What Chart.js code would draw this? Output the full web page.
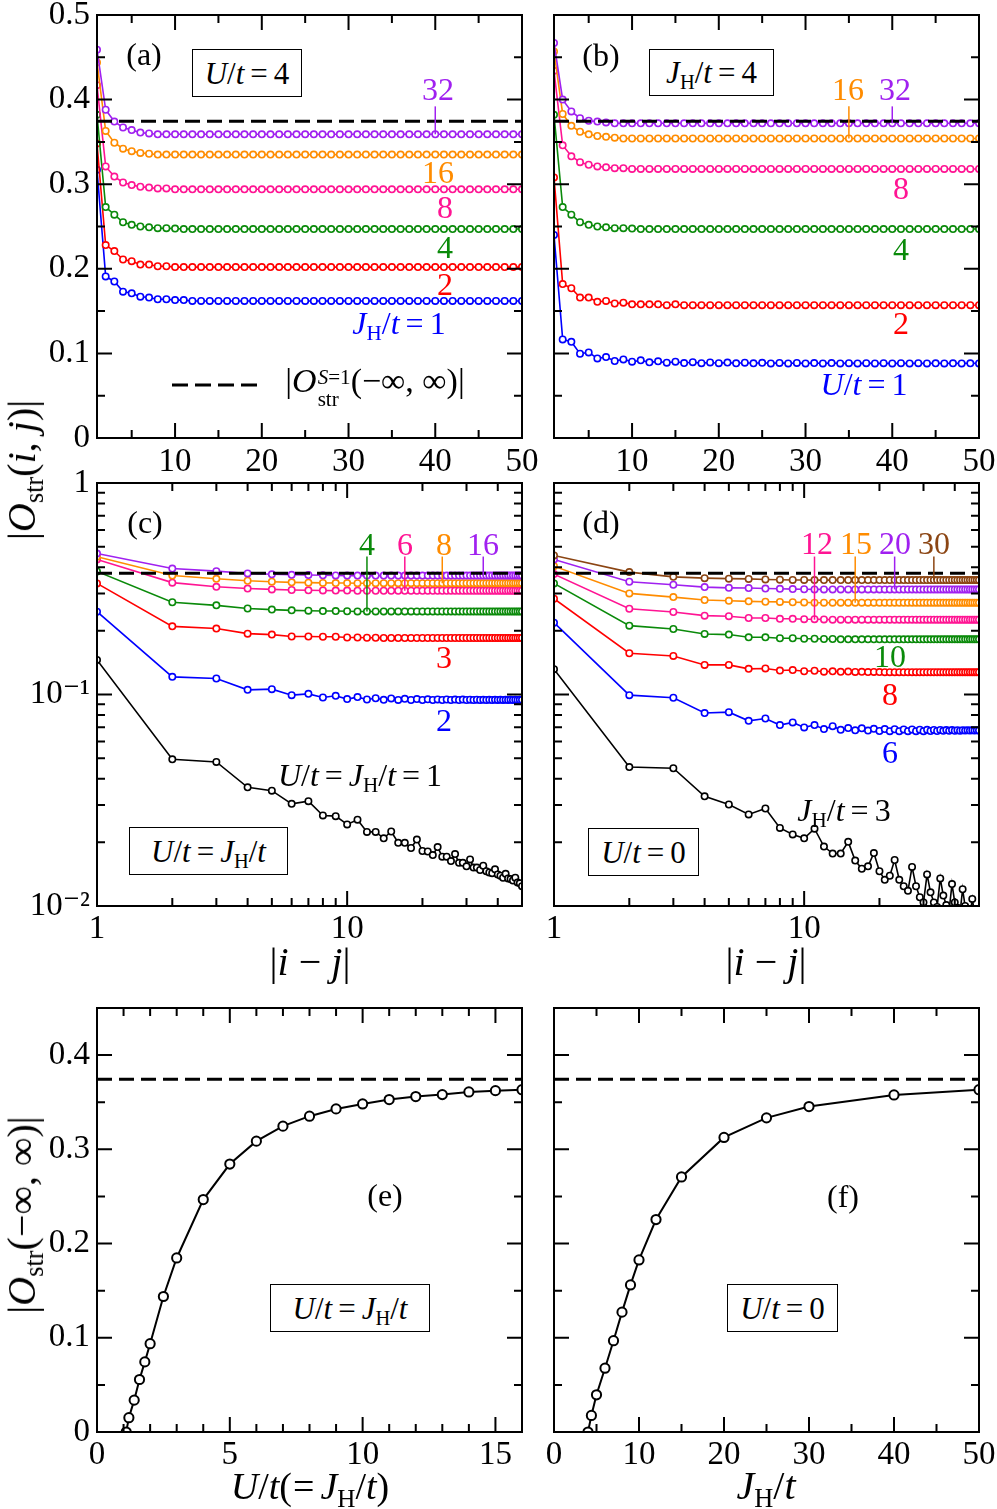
<!DOCTYPE html>
<html><head><meta charset="utf-8">
<script src="https://cdn.jsdelivr.net/npm/chart.js@4.4.1/dist/chart.umd.min.js"></script>
<style>
html,body{margin:0;padding:0;background:#fff;overflow:hidden}
#wrap{position:relative;width:997px;height:1509px;overflow:hidden;font-family:'Liberation Serif','Times New Roman','DejaVu Serif',serif;color:#000}
canvas{position:absolute}
.t{position:absolute;transform:translate(-50%,-50%);white-space:nowrap;line-height:1;font-size:32px}
.rot{position:absolute;transform:translate(-50%,-50%) rotate(-90deg);white-space:nowrap;line-height:1;font-size:40px}
.box{position:absolute;border:1.5px solid #000;background:#fff;display:flex;align-items:center;justify-content:center;font-size:31px;white-space:nowrap;box-sizing:border-box;line-height:1}
sub{font-size:0.66em;vertical-align:-0.3em;line-height:0;font-style:normal}
.ss{display:inline-flex;flex-direction:column;font-size:0.62em;vertical-align:0.38em;line-height:1.05;margin-left:1px}
.eq{margin:0 6px}
.eqr{margin:0 6px 0 1px}
</style>
</head><body><div id="wrap"></div>
<script>
// ---------------- data ----------------
const sep = [1,2,3,4,5,6,7,8,9,10,11,12,13,14,15,16,17,18,19,20,21,22,23,24,25,26,27,28,29,30,31,32,33,34,35,36,37,38,39,40,41,42,43,44,45,46,47,48,49,50];
const dashVal = [0.3743, 0.3743];

// U/t = J_H/t = 4 (shared by panels a, b, c)
const eq4 = [0.382,0.273,0.264,0.255,0.252,0.250,0.249,0.248,0.248,0.2475,
 0.247,0.247,0.247,0.247,0.247,0.247,0.247,0.247,0.247,0.247,
 0.247,0.247,0.247,0.247,0.247,0.247,0.247,0.247,0.247,0.247,
 0.247,0.247,0.247,0.247,0.247,0.247,0.247,0.247,0.247,0.247,
 0.247,0.247,0.247,0.247,0.247,0.247,0.247,0.247,0.247,0.247];

// panel (a): U/t=4, J_H/t = 1,2,8,16,32
const aJ1 = [0.317,0.191,0.185,0.173,0.171,0.167,0.166,0.164,0.164,0.163,
 0.163,0.162,0.162,0.162,0.162,0.162,0.162,0.162,0.162,0.162,
 0.162,0.162,0.162,0.162,0.162,0.162,0.162,0.162,0.162,0.162,
 0.162,0.162,0.162,0.162,0.162,0.162,0.162,0.162,0.162,0.162,
 0.162,0.162,0.162,0.162,0.162,0.162,0.162,0.162,0.162,0.162];
const aJ2 = [0.348,0.228,0.221,0.211,0.209,0.205,0.205,0.203,0.203,0.202,
 0.202,0.202,0.202,0.202,0.202,0.202,0.202,0.202,0.202,0.202,
 0.202,0.202,0.202,0.202,0.202,0.202,0.202,0.202,0.202,0.202,
 0.202,0.202,0.202,0.202,0.202,0.202,0.202,0.202,0.202,0.202,
 0.202,0.202,0.202,0.202,0.202,0.202,0.202,0.202,0.202,0.202];
const aJ8 = [0.417,0.321,0.309,0.302,0.299,0.297,0.296,0.295,0.295,0.294,
 0.294,0.294,0.294,0.294,0.294,0.294,0.294,0.294,0.294,0.294,
 0.294,0.294,0.294,0.294,0.294,0.294,0.294,0.294,0.294,0.294,
 0.294,0.294,0.294,0.294,0.294,0.294,0.294,0.294,0.294,0.294,
 0.294,0.294,0.294,0.294,0.294,0.294,0.294,0.294,0.294,0.294];
const aJ16 = [0.444,0.363,0.349,0.342,0.339,0.337,0.336,0.335,0.335,0.335,
 0.335,0.335,0.335,0.335,0.335,0.335,0.335,0.335,0.335,0.335,
 0.335,0.335,0.335,0.335,0.335,0.335,0.335,0.335,0.335,0.335,
 0.335,0.335,0.335,0.335,0.335,0.335,0.335,0.335,0.335,0.335,
 0.335,0.335,0.335,0.335,0.335,0.335,0.335,0.335,0.335,0.335];
const aJ32 = [0.459,0.388,0.374,0.367,0.364,0.361,0.360,0.359,0.359,0.359,
 0.359,0.359,0.359,0.359,0.359,0.359,0.359,0.359,0.359,0.359,
 0.359,0.359,0.359,0.359,0.359,0.359,0.359,0.359,0.359,0.359,
 0.359,0.359,0.359,0.359,0.359,0.359,0.359,0.359,0.359,0.359,
 0.359,0.359,0.359,0.359,0.359,0.359,0.359,0.359,0.359,0.359];

// panel (b): J_H/t=4, U/t = 1,2,8,16,32
const bU1 = [0.240,0.1165,0.1137,0.0996,0.1012,0.0941,0.0957,0.0910,0.0929,0.0902,
 0.0918,0.0894,0.0906,0.0890,0.0902,0.0886,0.0896,0.0885,0.0893,0.0884,
 0.0891,0.0883,0.0890,0.0883,0.0889,0.0882,0.0888,0.0882,0.0887,0.0882,
 0.0886,0.0882,0.0886,0.0882,0.0885,0.0882,0.0885,0.0882,0.0884,0.0882,
 0.0884,0.0882,0.0884,0.0882,0.0883,0.0882,0.0883,0.0882,0.0883,0.0882];
const bU2 = [0.308,0.182,0.177,0.166,0.166,0.161,0.162,0.159,0.160,0.158,
 0.158,0.158,0.158,0.157,0.158,0.157,0.157,0.157,0.157,0.157,
 0.157,0.157,0.157,0.157,0.157,0.157,0.157,0.157,0.157,0.157,
 0.157,0.157,0.157,0.157,0.157,0.157,0.157,0.157,0.157,0.157,
 0.157,0.157,0.157,0.157,0.157,0.157,0.157,0.157,0.157,0.157];
const bU8 = [0.434,0.346,0.333,0.326,0.323,0.321,0.320,0.319,0.319,0.318,
 0.318,0.318,0.318,0.318,0.318,0.318,0.318,0.318,0.318,0.318,
 0.318,0.318,0.318,0.318,0.318,0.318,0.318,0.318,0.318,0.318,
 0.318,0.318,0.318,0.318,0.318,0.318,0.318,0.318,0.318,0.318,
 0.318,0.318,0.318,0.318,0.318,0.318,0.318,0.318,0.318,0.318];
const bU16 = [0.457,0.383,0.369,0.362,0.359,0.357,0.356,0.355,0.354,0.354,
 0.354,0.354,0.354,0.354,0.354,0.354,0.354,0.354,0.354,0.354,
 0.354,0.354,0.354,0.354,0.354,0.354,0.354,0.354,0.354,0.354,
 0.354,0.354,0.354,0.354,0.354,0.354,0.354,0.354,0.354,0.354,
 0.354,0.354,0.354,0.354,0.354,0.354,0.354,0.354,0.354,0.354];
const bU32 = [0.467,0.400,0.386,0.378,0.375,0.374,0.373,0.372,0.372,0.372,
 0.372,0.372,0.372,0.372,0.372,0.372,0.372,0.372,0.372,0.372,
 0.372,0.372,0.372,0.372,0.372,0.372,0.372,0.372,0.372,0.372,
 0.372,0.372,0.372,0.372,0.372,0.372,0.372,0.372,0.372,0.372,
 0.372,0.372,0.372,0.372,0.372,0.372,0.372,0.372,0.372,0.372];

// panel (c): U/t = J_H/t = 1,2,3,(4),6,8,16
const cE1 = [0.1457,0.0494,0.0480,0.0364,0.0351,0.0304,0.0313,0.0268,0.0266,0.0243,
 0.0256,0.0224,0.0224,0.0209,0.0225,0.0199,0.0199,0.0188,0.0206,0.0182,
 0.0181,0.0174,0.0190,0.0171,0.0171,0.0163,0.0176,0.0160,0.0160,0.0154,
 0.0166,0.0152,0.0152,0.0148,0.0155,0.0146,0.0144,0.0143,0.0149,0.0141,
 0.0139,0.0136,0.0142,0.0135,0.0134,0.0132,0.0136,0.0129,0.0128,0.0124];
const cE2 = [0.2463,0.1212,0.1190,0.1052,0.1060,0.0993,0.1007,0.0968,0.0986,0.0951,
 0.0972,0.0947,0.0960,0.0944,0.0958,0.0943,0.0954,0.0942,0.0951,0.0942,
 0.0949,0.0942,0.0948,0.0942,0.0947,0.0942,0.0946,0.0942,0.0946,0.0942,
 0.0945,0.0942,0.0945,0.0942,0.0944,0.0942,0.0944,0.0942,0.0944,0.0943,
 0.0944,0.0943,0.0944,0.0943,0.0944,0.0943,0.0944,0.0943,0.0944,0.0944];
const cE3 = [0.335,0.210,0.205,0.194,0.192,0.188,0.188,0.1875,0.1875,0.186,
 0.186,0.1855,0.1855,0.185,0.185,0.185,0.185,0.185,0.185,0.185,
 0.185,0.185,0.185,0.185,0.185,0.185,0.185,0.185,0.185,0.185,
 0.185,0.185,0.185,0.185,0.185,0.185,0.185,0.185,0.185,0.185,
 0.185,0.185,0.185,0.185,0.185,0.185,0.185,0.185,0.185,0.185];
const cE6 = [0.435,0.338,0.323,0.317,0.314,0.312,0.311,0.3105,0.310,0.310,
 0.3095,0.3095,0.3095,0.3095,0.3095,0.3095,0.3095,0.3095,0.3095,0.3095,
 0.3095,0.3095,0.3095,0.3095,0.3095,0.3095,0.3095,0.3095,0.3095,0.3095,
 0.3095,0.3095,0.3095,0.3095,0.3095,0.3095,0.3095,0.3095,0.3095,0.3095,
 0.3095,0.3095,0.3095,0.3095,0.3095,0.3095,0.3095,0.3095,0.3095,0.3095];
const cE8 = [0.448,0.365,0.3525,0.345,0.3415,0.339,0.338,0.337,0.3365,0.3365,
 0.336,0.336,0.336,0.336,0.336,0.336,0.336,0.336,0.336,0.336,
 0.336,0.336,0.336,0.336,0.336,0.336,0.336,0.336,0.336,0.336,
 0.336,0.336,0.336,0.336,0.336,0.336,0.336,0.336,0.336,0.336,
 0.336,0.336,0.336,0.336,0.336,0.336,0.336,0.336,0.336,0.336];
const cE16 = [0.464,0.394,0.383,0.3735,0.370,0.368,0.367,0.366,0.3655,0.365,
 0.365,0.365,0.365,0.365,0.365,0.365,0.365,0.365,0.365,0.365,
 0.365,0.365,0.365,0.365,0.365,0.365,0.365,0.365,0.365,0.365,
 0.365,0.365,0.365,0.365,0.365,0.365,0.365,0.365,0.365,0.365,
 0.365,0.365,0.365,0.365,0.365,0.365,0.365,0.365,0.365,0.365];

// panel (d): U/t=0, J_H/t = 3,6,8,10,12,15,20,30
const dJ3 = [0.1317,0.0454,0.0448,0.0330,0.0302,0.0271,0.0289,0.0234,0.0218,0.0209,
 0.0232,0.0191,0.0177,0.0177,0.0201,0.0164,0.0150,0.0154,0.0178,0.0146,
 0.0133,0.0139,0.0165,0.0133,0.0124,0.0118,0.0153,0.0124,0.0110,0.0104,
 0.0141,0.0116,0.0104,0.0099,0.0135,0.0112,0.0101,0.0096,0.0127,0.0104,
 0.0098,0.0093,0.0120,0.0100,0.0093,0.0090,0.0108,0.0093,0.0088,0.0087];
const dJ6 = [0.2186,0.0993,0.0965,0.0817,0.0825,0.0751,0.0770,0.0717,0.0738,0.0699,
 0.0717,0.0686,0.0708,0.0681,0.0694,0.0677,0.0692,0.0675,0.0688,0.0672,
 0.0686,0.0671,0.0685,0.0671,0.0684,0.0671,0.0683,0.0671,0.0682,0.0671,
 0.0681,0.0672,0.0680,0.0672,0.0680,0.0673,0.0679,0.0673,0.0679,0.0674,
 0.0678,0.0674,0.0678,0.0675,0.0677,0.0675,0.0677,0.0675,0.0677,0.0676];
const dJ8 = [0.2836,0.1567,0.1522,0.1380,0.1380,0.1322,0.1328,0.1298,0.1305,0.1288,
 0.1295,0.1282,0.1287,0.1280,0.1283,0.1278,0.1280,0.1277,0.1279,0.1276,
 0.1275,0.1275,0.1275,0.1275,0.1275,0.1275,0.1275,0.1275,0.1275,0.1275,
 0.1275,0.1275,0.1275,0.1275,0.1275,0.1275,0.1275,0.1275,0.1275,0.1275,
 0.1275,0.1275,0.1275,0.1275,0.1275,0.1275,0.1275,0.1275,0.1275,0.1275];
const dJ10 = [0.335,0.2116,0.204,0.1933,0.192,0.1864,0.1864,0.1845,0.1845,0.1835,
 0.1835,0.183,0.183,0.1824,0.1824,0.1824,0.1824,0.1824,0.1824,0.1824,
 0.1824,0.1824,0.1824,0.1824,0.1824,0.1824,0.1824,0.1824,0.1824,0.1824,
 0.1824,0.1824,0.1824,0.1824,0.1824,0.1824,0.1824,0.1824,0.1824,0.1824,
 0.1824,0.1824,0.1824,0.1824,0.1824,0.1824,0.1824,0.1824,0.1824,0.1824];
const dJ12 = [0.3709,0.2544,0.2455,0.2359,0.2346,0.230,0.230,0.228,0.228,0.227,
 0.227,0.2265,0.2258,0.2258,0.2258,0.2258,0.2258,0.2258,0.2258,0.2258,
 0.2258,0.2258,0.2258,0.2258,0.2258,0.2258,0.2258,0.2258,0.2258,0.2258,
 0.2258,0.2258,0.2258,0.2258,0.2258,0.2258,0.2258,0.2258,0.2258,0.2258,
 0.2258,0.2258,0.2258,0.2258,0.2258,0.2258,0.2258,0.2258,0.2258,0.2258];
const dJ15 = [0.4045,0.3006,0.2888,0.2796,0.2773,0.2757,0.2745,0.274,0.273,0.2725,
 0.2716,0.2716,0.2716,0.2716,0.2716,0.2716,0.2716,0.2716,0.2716,0.2716,
 0.2716,0.2716,0.2716,0.2716,0.2716,0.2716,0.2716,0.2716,0.2716,0.2716,
 0.2716,0.2716,0.2716,0.2716,0.2716,0.2716,0.2716,0.2716,0.2716,0.2716,
 0.2716,0.2716,0.2716,0.2716,0.2716,0.2716,0.2716,0.2716,0.2716,0.2716];
const dJ20 = [0.4348,0.3412,0.3303,0.322,0.3194,0.3187,0.317,0.316,0.315,0.3145,
 0.314,0.314,0.314,0.314,0.314,0.314,0.314,0.314,0.314,0.314,
 0.314,0.314,0.314,0.314,0.314,0.314,0.314,0.314,0.314,0.314,
 0.314,0.314,0.314,0.314,0.314,0.314,0.314,0.314,0.314,0.314,
 0.314,0.314,0.314,0.314,0.314,0.314,0.314,0.314,0.314,0.314];
const dJ30 = [0.4543,0.379,0.360,0.355,0.353,0.352,0.350,0.349,0.348,0.348,
 0.3475,0.3475,0.3475,0.3475,0.3475,0.3475,0.3475,0.3475,0.3475,0.3475,
 0.3475,0.3475,0.3475,0.3475,0.3475,0.3475,0.3475,0.3475,0.3475,0.3475,
 0.3475,0.3475,0.3475,0.3475,0.3475,0.3475,0.3475,0.3475,0.3475,0.3475,
 0.3475,0.3475,0.3475,0.3475,0.3475,0.3475,0.3475,0.3475,0.3475,0.3475];

// panel (e): U/t = J_H/t
const eX = [1.1,1.2,1.4,1.6,1.8,2,2.5,3,4,5,6,7,8,9,10,11,12,13,14,15,16];
const eY = [0,0.0152,0.0338,0.0557,0.0744,0.0937,0.1438,0.1847,0.2467,0.2844,0.3087,0.3246,0.3352,0.3429,0.3482,0.3528,0.356,0.3581,0.3609,0.3623,0.3633];
// panel (f): U/t = 0
const fX = [4,4.4,5,6,7,8,9,10,12,15,20,25,30,40,50];
const fY = [0,0.0176,0.0395,0.0677,0.0969,0.1272,0.1561,0.1826,0.2255,0.2707,0.3126,0.3334,0.3454,0.3577,0.3633];

// tick values / labels
const abXTicks = [10,20,30,40,50], abXLabels = ['10','20','30','40','50'];
const abXMinor = [5,15,25,35,45];
const abYTicks = [0,0.1,0.2,0.3,0.4,0.5], abYLabels = ['0','0.1','0.2','0.3','0.4','0.5'];
const abYMinor = [0.05,0.15,0.25,0.35,0.45];
const logXTicks = [1,10], logXLabels = ['1','10'];
const logXMinor = [2,3,4,5,6,7,8,9,20,30,40];
const logYTicks = [0.01,0.1,1], logYLabels = ['10\u207B\u00B2','10\u207B\u00B9','1'];
const logYMinor = [0.02,0.03,0.04,0.05,0.06,0.07,0.08,0.09,0.2,0.3,0.4,0.5,0.6,0.7,0.8,0.9];
const eXTicks = [0,5,10,15], eXLabels = ['0','5','10','15'];
const eXMinor = [1,2,3,4,6,7,8,9,11,12,13,14];
const fXTicks = [0,10,20,30,40,50], fXLabels = ['0','10','20','30','40','50'];
const fXMinor = [5,15,25,35,45];
const efYTicks = [0,0.1,0.2,0.3,0.4], efYLabels = ['0','0.1','0.2','0.3','0.4'];
const efYMinor = [0.05,0.15,0.25,0.35];

// ---------------- drawing ----------------
const COL = {blue:'#0000ff', red:'#ff0000', green:'#0a8a0a', pink:'#ff1493', orange:'#ff8c00', purple:'#a020f0', brown:'#8b4513', black:'#000000'};
Chart.defaults.font.family = "'Liberation Serif','Times New Roman','DejaVu Serif',serif";
const wrap = document.getElementById('wrap');

function ser(xs, ys, color, r, bw) {
  return {data: xs.map((x, i) => ({x: x, y: ys[i]})), borderColor: color, backgroundColor: '#fff',
    pointBackgroundColor: '#fff', pointBorderColor: color, pointRadius: r, pointHoverRadius: r,
    pointBorderWidth: bw, borderWidth: bw, tension: 0, fill: false};
}
function dash(x0, x1) {
  return {data: [{x: x0, y: dashVal[0]}, {x: x1, y: dashVal[1]}], borderColor: '#000', borderWidth: 3,
    borderDash: [15, 7], pointRadius: 0, pointHoverRadius: 0, fill: false};
}
function framePlugin(c) {
  return {id: 'frame', afterDatasetsDraw(chart) {
    const ctx = chart.ctx, a = chart.chartArea, xs = chart.scales.x, ys = chart.scales.y;
    ctx.save();
    ctx.strokeStyle = '#000'; ctx.lineWidth = 2;
    const vx = (list, len) => list.forEach(v => { const p = xs.getPixelForValue(v);
      ctx.beginPath(); ctx.moveTo(p, a.bottom); ctx.lineTo(p, a.bottom - len); ctx.moveTo(p, a.top); ctx.lineTo(p, a.top + len); ctx.stroke(); });
    const hy = (list, len) => list.forEach(v => { const p = ys.getPixelForValue(v);
      ctx.beginPath(); ctx.moveTo(a.left, p); ctx.lineTo(a.left + len, p); ctx.moveTo(a.right, p); ctx.lineTo(a.right - len, p); ctx.stroke(); });
    vx(c.xTicks, 15); vx(c.xMinor, 8); hy(c.yTicks, 15); hy(c.yMinor, 8);
    ctx.strokeRect(a.left, a.top, a.right - a.left, a.bottom - a.top);
    (c.leaders || []).forEach(l => {
      const p = xs.getPixelForValue(l.x);
      ctx.strokeStyle = l.color; ctx.lineWidth = 1.5;
      ctx.beginPath(); ctx.moveTo(p, ys.getPixelForValue(l.y1)); ctx.lineTo(p, ys.getPixelForValue(l.y2)); ctx.stroke();
    });
    ctx.restore();
  }};
}
function panel(c) {
  const cv = c.cv, ar = c.area;
  const el = document.createElement('canvas');
  el.width = cv.w; el.height = cv.h;
  el.style.left = cv.x + 'px'; el.style.top = cv.y + 'px';
  el.style.width = cv.w + 'px'; el.style.height = cv.h + 'px';
  wrap.appendChild(el);
  new Chart(el, {
    type: 'line',
    data: {datasets: c.datasets},
    options: {
      responsive: false, animation: false, devicePixelRatio: 1, events: [],
      layout: {padding: {left: 0, top: ar.t - cv.y, right: cv.x + cv.w - ar.r, bottom: 0}},
      plugins: {legend: {display: false}, tooltip: {enabled: false}},
      scales: {
        x: {type: c.xType, min: c.xMin, max: c.xMax, position: 'bottom',
          grid: {display: false, drawTicks: false}, border: {display: false},
          afterFit: s => { s.height = cv.y + cv.h - ar.b; },
          afterBuildTicks: s => { s.ticks = c.xTicks.map(v => ({value: v})); },
          ticks: {display: !!c.xLabels, callback: (v, i) => c.xLabels ? c.xLabels[i] : '', padding: c.xPad,
            font: {size: 33}, color: '#000', maxRotation: 0, autoSkip: false}},
        y: {type: c.yType, min: c.yMin, max: c.yMax, position: 'left',
          grid: {display: false, drawTicks: false}, border: {display: false},
          afterFit: s => { s.width = ar.l - cv.x; },
          afterBuildTicks: s => { s.ticks = c.yTicks.map(v => ({value: v})); },
          ticks: {display: !!c.yLabels, callback: (v, i) => c.yLabels ? c.yLabels[i] : '', padding: 7,
            font: {size: 33}, color: '#000', autoSkip: false}}
      }
    },
    plugins: [framePlugin(c)]
  });
}

const R = 3.2, BW = 1.6;
// (a)
panel({cv: {x: 0, y: -25, w: 545, h: 520}, area: {l: 97, t: 15, r: 522, b: 438},
  xType: 'linear', xMin: 1, xMax: 50, yType: 'linear', yMin: 0, yMax: 0.5,
  xTicks: abXTicks, xLabels: abXLabels, xMinor: abXMinor, xPad: 5,
  yTicks: abYTicks, yLabels: abYLabels, yMinor: abYMinor,
  leaders: [{x: 40, y1: 0.392, y2: 0.359, color: COL.purple}],
  datasets: [dash(1, 50), ser(sep, aJ32, COL.purple, R, BW), ser(sep, aJ16, COL.orange, R, BW), ser(sep, aJ8, COL.pink, R, BW),
    ser(sep, eq4, COL.green, R, BW), ser(sep, aJ2, COL.red, R, BW), ser(sep, aJ1, COL.blue, R, BW)]});
// (b)
panel({cv: {x: 530, y: -25, w: 480, h: 520}, area: {l: 554, t: 15, r: 979, b: 438},
  xType: 'linear', xMin: 1, xMax: 50, yType: 'linear', yMin: 0, yMax: 0.5,
  xTicks: abXTicks, xLabels: abXLabels, xMinor: abXMinor, xPad: 5,
  yTicks: abYTicks, yLabels: null, yMinor: abYMinor,
  leaders: [{x: 35, y1: 0.392, y2: 0.354, color: COL.orange}, {x: 40, y1: 0.392, y2: 0.372, color: COL.purple}],
  datasets: [dash(1, 50), ser(sep, bU32, COL.purple, R, BW), ser(sep, bU16, COL.orange, R, BW), ser(sep, bU8, COL.pink, R, BW),
    ser(sep, eq4, COL.green, R, BW), ser(sep, bU2, COL.red, R, BW), ser(sep, bU1, COL.blue, R, BW)]});
// (c)
panel({cv: {x: 0, y: 450, w: 545, h: 530}, area: {l: 97, t: 483, r: 522, b: 906},
  xType: 'logarithmic', xMin: 1, xMax: 50, yType: 'logarithmic', yMin: 0.01, yMax: 1,
  xTicks: logXTicks, xLabels: logXLabels, xMinor: logXMinor, xPad: 4,
  yTicks: logYTicks, yLabels: logYLabels, yMinor: logYMinor,
  leaders: [{x: 12, y1: 0.449, y2: 0.247, color: COL.green}, {x: 17, y1: 0.449, y2: 0.3095, color: COL.pink},
    {x: 24, y1: 0.449, y2: 0.336, color: COL.orange}, {x: 35, y1: 0.449, y2: 0.365, color: COL.purple}],
  datasets: [dash(1, 50), ser(sep, cE16, COL.purple, R, BW), ser(sep, cE8, COL.orange, R, BW), ser(sep, cE6, COL.pink, R, BW),
    ser(sep, eq4, COL.green, R, BW), ser(sep, cE3, COL.red, R, BW), ser(sep, cE2, COL.blue, R, BW), ser(sep, cE1, COL.black, R, BW)]});
// (d)
panel({cv: {x: 530, y: 450, w: 480, h: 530}, area: {l: 554, t: 483, r: 979, b: 906},
  xType: 'logarithmic', xMin: 1, xMax: 50, yType: 'logarithmic', yMin: 0.01, yMax: 1,
  xTicks: logXTicks, xLabels: logXLabels, xMinor: logXMinor, xPad: 4,
  yTicks: logYTicks, yLabels: null, yMinor: logYMinor,
  leaders: [{x: 11, y1: 0.449, y2: 0.2258, color: COL.pink}, {x: 16, y1: 0.449, y2: 0.2716, color: COL.orange},
    {x: 23, y1: 0.449, y2: 0.314, color: COL.purple}, {x: 33, y1: 0.449, y2: 0.3475, color: COL.brown}],
  datasets: [dash(1, 50), ser(sep, dJ30, COL.brown, R, BW), ser(sep, dJ20, COL.purple, R, BW), ser(sep, dJ15, COL.orange, R, BW),
    ser(sep, dJ12, COL.pink, R, BW), ser(sep, dJ10, COL.green, R, BW), ser(sep, dJ8, COL.red, R, BW),
    ser(sep, dJ6, COL.blue, R, BW), ser(sep, dJ3, COL.black, R, BW)]});
// (e)
panel({cv: {x: 0, y: 975, w: 545, h: 534}, area: {l: 97, t: 1008, r: 522, b: 1432},
  xType: 'linear', xMin: 0, xMax: 16, yType: 'linear', yMin: 0, yMax: 0.45,
  xTicks: eXTicks, xLabels: eXLabels, xMinor: eXMinor, xPad: 4,
  yTicks: efYTicks, yLabels: efYLabels, yMinor: efYMinor,
  datasets: [dash(0, 16), ser(eX, eY, COL.black, 4.6, 2)]});
// (f)
panel({cv: {x: 530, y: 975, w: 480, h: 534}, area: {l: 554, t: 1008, r: 979, b: 1432},
  xType: 'linear', xMin: 0, xMax: 50, yType: 'linear', yMin: 0, yMax: 0.45,
  xTicks: fXTicks, xLabels: fXLabels, xMinor: fXMinor, xPad: 4,
  yTicks: efYTicks, yLabels: null, yMinor: efYMinor,
  datasets: [dash(0, 50), ser(fX, fY, COL.black, 4.6, 2)]});

// ---------------- text overlays ----------------
function txt(x, y, html, color, size) {
  const d = document.createElement('div'); d.className = 't';
  d.style.left = x + 'px'; d.style.top = y + 'px';
  if (color) d.style.color = color; if (size) d.style.fontSize = size + 'px';
  d.innerHTML = html; wrap.appendChild(d);
}
function box(l, t, w, h, html) {
  const d = document.createElement('div'); d.className = 'box';
  d.style.left = l + 'px'; d.style.top = t + 'px'; d.style.width = w + 'px'; d.style.height = h + 'px';
  d.innerHTML = '<span>' + html + '</span>'; wrap.appendChild(d);
}
function rot(x, y, html) {
  const d = document.createElement('div'); d.className = 'rot';
  d.style.left = x + 'px'; d.style.top = y + 'px'; d.innerHTML = html; wrap.appendChild(d);
}
const JH = '<i>J</i><sub>H</sub>';
const EQ = '<span class="eq">=</span>';
// (a)
txt(144, 54, '(a)');
box(192, 49, 110, 48, '<i>U</i>/<i>t</i>' + EQ + '4');
txt(438, 89, '32', COL.purple); txt(438, 172, '16', COL.orange); txt(445, 207, '8', COL.pink);
txt(445, 247, '4', COL.green); txt(445, 284, '2', COL.red);
txt(399, 323, JH + '/<i>t</i>' + EQ + '1', COL.blue);
txt(375, 387, '|<i>O</i><span class="ss"><span><i>S</i>=1</span><span>str</span></span>(−∞, ∞)|', null, 34);
// (b)
txt(601, 55, '(b)');
box(649, 49, 125, 47, JH + '/<i>t</i>' + EQ + '4');
txt(848, 89, '16', COL.orange); txt(895, 89, '32', COL.purple);
txt(901, 188, '8', COL.pink); txt(901, 249, '4', COL.green); txt(901, 323, '2', COL.red);
txt(864, 384, '<i>U</i>/<i>t</i>' + EQ + '1', COL.blue);
// (c)
txt(145, 522, '(c)');
txt(367, 544, '4', COL.green); txt(405, 544, '6', COL.pink); txt(444, 544, '8', COL.orange); txt(483, 544, '16', COL.purple);
txt(444, 657, '3', COL.red); txt(444, 720, '2', COL.blue);
txt(360, 775, '<i>U</i>/<i>t</i>' + EQ + JH + '/<i>t</i>' + EQ + '1', COL.black);
box(129, 827, 159, 48, '<i>U</i>/<i>t</i>' + EQ + JH + '/<i>t</i>');
// (d)
txt(601, 522, '(d)');
txt(817, 543, '12', COL.pink); txt(856, 543, '15', COL.orange); txt(895, 543, '20', COL.purple); txt(934, 543, '30', COL.brown);
txt(890, 656, '10', COL.green); txt(890, 694, '8', COL.red); txt(890, 752, '6', COL.blue);
txt(844, 810, JH + '/<i>t</i>' + EQ + '3', COL.black);
box(588, 828, 111, 48, '<i>U</i>/<i>t</i>' + EQ + '0');
// (e), (f)
txt(385, 1195, '(e)');
box(270, 1284, 160, 48, '<i>U</i>/<i>t</i>' + EQ + JH + '/<i>t</i>');
txt(843, 1196, '(f)');
box(727, 1284, 111, 48, '<i>U</i>/<i>t</i>' + EQ + '0');
// axis titles
rot(22, 470, '|<i>O</i><sub>str</sub>(<i>i</i>, <i>j</i>)|');
rot(22, 1215, '|<i>O</i><sub>str</sub>(−∞, ∞)|');
txt(310, 962, '|<i>i</i> − <i>j</i>|', null, 40);
txt(766, 962, '|<i>i</i> − <i>j</i>|', null, 40);
txt(310, 1486, '<i>U</i>/<i>t</i>(<span class="eqr">=</span>' + JH + '/<i>t</i>)', null, 38);
txt(766, 1486, JH + '/<i>t</i>', null, 40);
// legend dash sample
const svg = document.createElementNS('http://www.w3.org/2000/svg', 'svg');
svg.setAttribute('width', '92'); svg.setAttribute('height', '10');
svg.style.position = 'absolute'; svg.style.left = '170px'; svg.style.top = '380px';
svg.innerHTML = '<line x1="2" y1="5" x2="90" y2="5" stroke="#000" stroke-width="3" stroke-dasharray="16 7"/>';
wrap.appendChild(svg);
</script>
</body></html>
